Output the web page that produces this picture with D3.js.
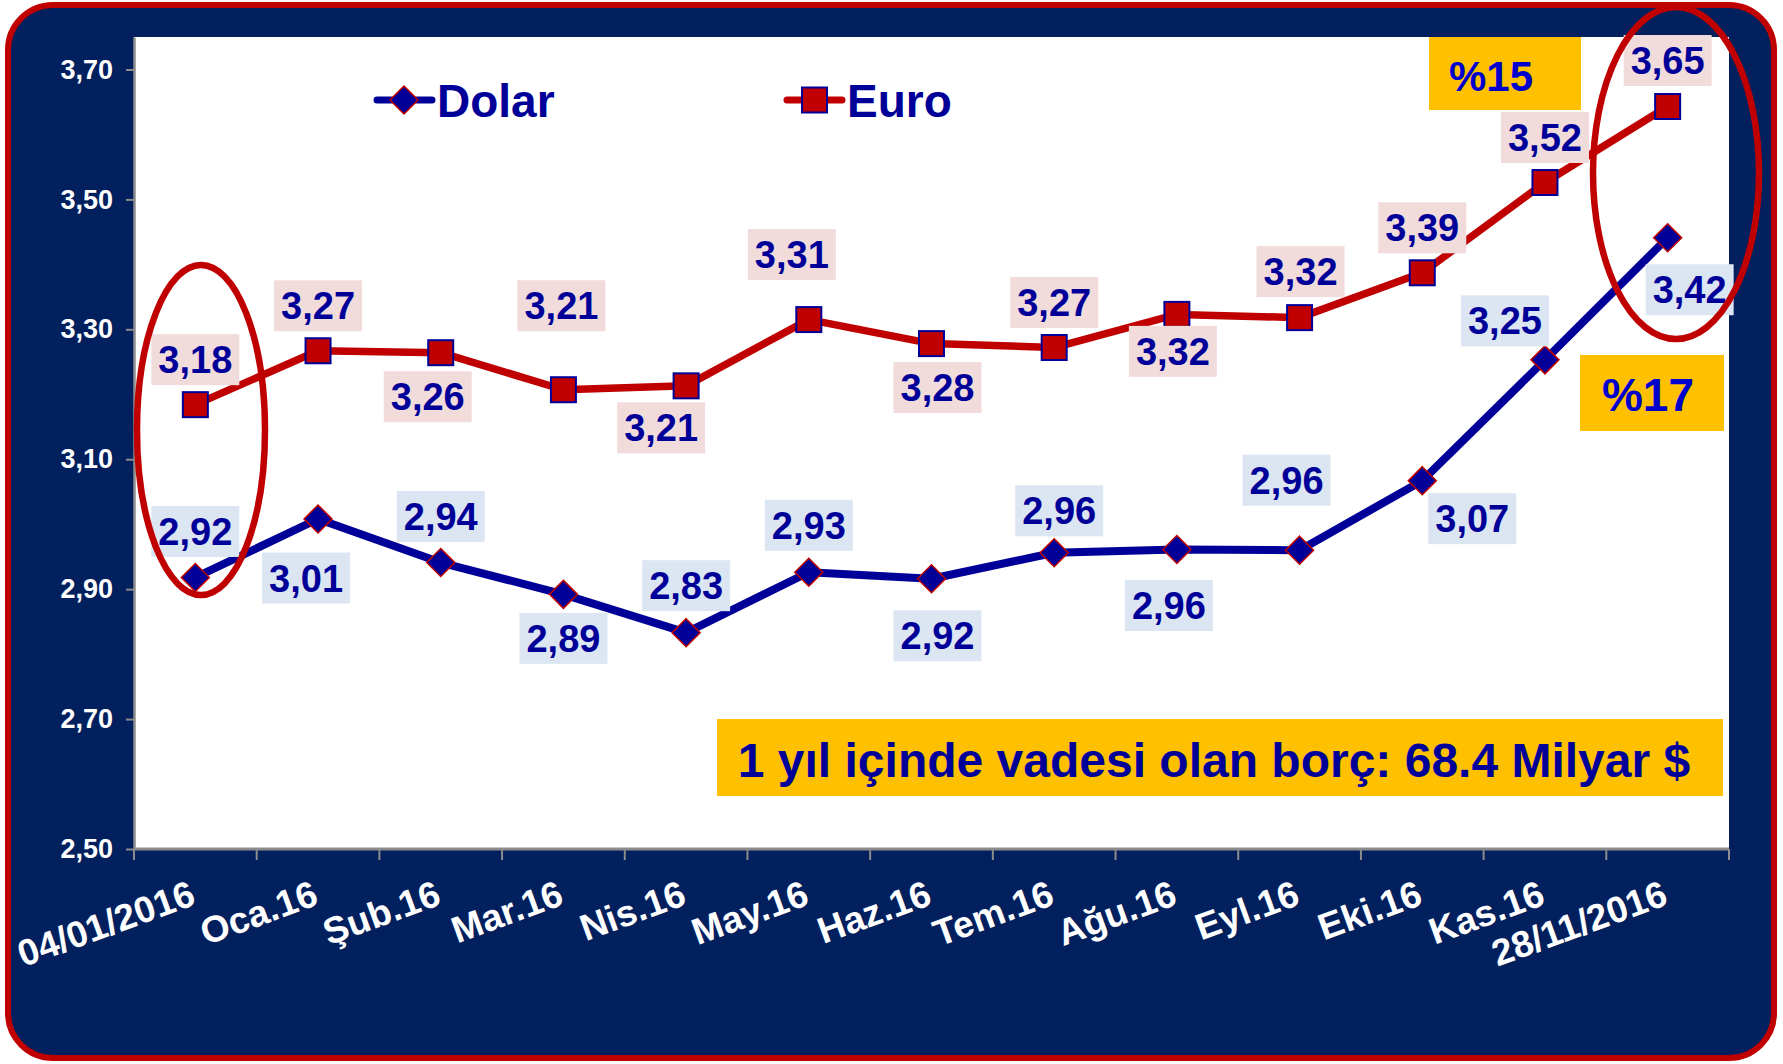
<!DOCTYPE html>
<html>
<head>
<meta charset="utf-8">
<script src="https://cdn.jsdelivr.net/npm/d3@7"></script>
<style>
  body { margin: 0; background: #ffffff; }
  text { font-family: "Liberation Sans", Arial, sans-serif; font-weight: bold; }
</style>
</head>
<body>
<div id="chart"></div>
<script>
// Data (values as plotted, labels as printed on the chart)
var categories = ["04/01/2016", "Oca.16", "Şub.16", "Mar.16", "Nis.16", "May.16", "Haz.16",
                  "Tem.16", "Ağu.16", "Eyl.16", "Eki.16", "Kas.16", "28/11/2016"];
var dolarValues = [2.918, 3.008, 2.941, 2.892, 2.833, 2.926, 2.916, 2.956, 2.961, 2.96, 3.067, 3.253, 3.441];
var euroValues  = [3.184, 3.267, 3.264, 3.207, 3.213, 3.315, 3.278, 3.272, 3.323, 3.318, 3.387, 3.526, 3.643];
var dolarLabels = ["2,92", "3,01", "2,94", "2,89", "2,83", "2,93", "2,92", "2,96", "2,96", "2,96", "3,07", "3,25", "3,42"];
var euroLabels  = ["3,18", "3,27", "3,26", "3,21", "3,21", "3,31", "3,28", "3,27", "3,32", "3,32", "3,39", "3,52", "3,65"];
var yTickValues = [2.5, 2.7, 2.9, 3.1, 3.3, 3.5, 3.7];
var seriesNames = ["Dolar", "Euro"];
var noteText = "1 yıl içinde vadesi olan borç: 68.4 Milyar $";
var euroChange = "%15";
var dolarChange = "%17";

// where each data label sits relative to its point (px)
var dolarLabelOffsets = [[0,-46],[-12,59],[0,-46],[0,44],[0,-47],[0,-47],[6,57],[5,-42],[-8,56],[-13,-70],[50,38],[-40,-39],[22,52]];
var euroLabelOffsets  = [[0,-45],[0,-45],[-13,44],[-2,-84],[-25,42],[-17,-65],[6,44],[0,-45],[-4,37],[1,-46],[0,-45],[0,-45],[0,-46]];

var navy = "#021F5E", red = "#C00000", blue = "#000099", yellow = "#FFC000";

var svgWidth = 1783, svgHeight = 1064;
var plot = { left: 134, right: 1729, top: 37, bottom: 849 };

var svg = d3.select("#chart").append("svg")
  .attr("width", svgWidth)
  .attr("height", svgHeight);

// frame + plot area
svg.append("rect")
  .attr("x", 8).attr("y", 5)
  .attr("width", 1766).attr("height", 1053)
  .attr("rx", 45)
  .attr("fill", navy)
  .attr("stroke", red)
  .attr("stroke-width", 6);

svg.append("rect")
  .attr("x", plot.left).attr("y", plot.top)
  .attr("width", plot.right - plot.left)
  .attr("height", plot.bottom - plot.top)
  .attr("fill", "#ffffff");

// scales
var xScale = d3.scaleBand().domain(categories).range([plot.left, plot.right]);
var bw = xScale.bandwidth();
var cx = function (i) { return xScale(categories[i]) + bw / 2; };
var yScale = d3.scaleLinear().domain([2.5, 3.75]).range([plot.bottom, plot.top]);
var fmt = function (v) { return d3.format(".2f")(v).replace(".", ","); };

// y axis
var yAxis = svg.append("g")
  .attr("transform", `translate(${plot.left},0)`)
  .call(d3.axisLeft(yScale).tickValues(yTickValues).tickSize(8).tickSizeOuter(0).tickPadding(13).tickFormat(fmt));
yAxis.select(".domain").attr("stroke", "#8c8c8c").attr("stroke-width", 2.5);
yAxis.selectAll(".tick line").attr("stroke", "#8c8c8c").attr("stroke-width", 2);
yAxis.selectAll(".tick text")
  .attr("fill", "#ffffff")
  .attr("font-size", "27px")
  .attr("font-family", "Liberation Sans, Arial, sans-serif")
  .attr("font-weight", "bold");

// x axis (ticks at category boundaries)
var xAxis = svg.append("g");
xAxis.append("line")
  .attr("x1", plot.left).attr("x2", plot.right)
  .attr("y1", plot.bottom).attr("y2", plot.bottom)
  .attr("stroke", "#8c8c8c").attr("stroke-width", 3);
var bounds = categories.map(function (c) { return xScale(c); }).concat([plot.right]);
xAxis.selectAll(".xtick")
  .data(bounds)
  .enter()
  .append("line")
  .attr("x1", d => d).attr("x2", d => d)
  .attr("y1", plot.bottom).attr("y2", plot.bottom + 11)
  .attr("stroke", "#8c8c8c").attr("stroke-width", 2);
xAxis.selectAll(".xlabel")
  .data(categories)
  .enter()
  .append("text")
  .attr("transform", (d, i) => `translate(${cx(i) + 2},${plot.bottom + 55}) rotate(-20)`)
  .attr("text-anchor", "end")
  .attr("fill", "#ffffff")
  .attr("font-size", "37px")
  .text(d => d);

// lines
var line = d3.line()
  .x((d, i) => cx(i))
  .y(d => yScale(d));

svg.append("path")
  .datum(euroValues)
  .attr("d", line)
  .attr("fill", "none")
  .attr("stroke", red)
  .attr("stroke-width", 7.5)
  .attr("stroke-linejoin", "round");

svg.append("path")
  .datum(dolarValues)
  .attr("d", line)
  .attr("fill", "none")
  .attr("stroke", blue)
  .attr("stroke-width", 8)
  .attr("stroke-linejoin", "round");

// markers
var diamond = "M0,-14L14,0L0,14L-14,0Z";

svg.selectAll(".euroMark")
  .data(euroValues)
  .enter()
  .append("rect")
  .attr("x", (d, i) => cx(i) - 12.5)
  .attr("y", d => yScale(d) - 12.5)
  .attr("width", 25).attr("height", 25)
  .attr("fill", red)
  .attr("stroke", blue)
  .attr("stroke-width", 2);

svg.selectAll(".dolarMark")
  .data(dolarValues)
  .enter()
  .append("path")
  .attr("d", diamond)
  .attr("transform", (d, i) => `translate(${cx(i)},${yScale(d)})`)
  .attr("fill", blue)
  .attr("stroke", red)
  .attr("stroke-width", 1.5);

// data labels
function drawLabels(values, labels, offsets, bg) {
  var g = svg.append("g")
    .selectAll("g")
    .data(values)
    .enter()
    .append("g")
    .attr("transform", (d, i) => `translate(${cx(i) + offsets[i][0]},${yScale(d) + offsets[i][1]})`);
  g.append("rect")
    .attr("x", -44).attr("y", -25.5)
    .attr("width", 88).attr("height", 51)
    .attr("fill", bg);
  g.append("text")
    .attr("text-anchor", "middle")
    .attr("y", 13.5)
    .attr("fill", blue)
    .attr("font-size", "38px")
    .text((d, i) => labels[i]);
}
drawLabels(euroValues, euroLabels, euroLabelOffsets, "#F2DCDB");
drawLabels(dolarValues, dolarLabels, dolarLabelOffsets, "#DCE6F2");

// legend
var legend = svg.append("g");
var legendX = [377, 787];
seriesNames.forEach(function (name, k) {
  var lg = legend.append("g").attr("transform", `translate(${legendX[k]},100)`);
  lg.append("line")
    .attr("x1", 0).attr("x2", 55)
    .attr("stroke", k === 0 ? blue : red)
    .attr("stroke-width", 7)
    .attr("stroke-linecap", "round");
  if (k === 0) {
    lg.append("path").attr("d", diamond).attr("transform", "translate(27,0)")
      .attr("fill", blue).attr("stroke", red).attr("stroke-width", 1.5);
  } else {
    lg.append("rect").attr("x", 15).attr("y", -12.5).attr("width", 25).attr("height", 25)
      .attr("fill", red).attr("stroke", blue).attr("stroke-width", 2);
  }
  lg.append("text")
    .attr("x", 60).attr("y", 17)
    .attr("fill", blue)
    .attr("font-size", "46px")
    .text(name);
});

// yellow callouts
svg.append("rect").attr("x", 1429).attr("y", 37).attr("width", 152).attr("height", 73).attr("fill", yellow);
svg.append("text").attr("x", 1449).attr("y", 91).attr("fill", "#0000CC").attr("font-size", "42px").text(euroChange);

svg.append("rect").attr("x", 1580).attr("y", 355).attr("width", 144).attr("height", 76).attr("fill", yellow);
svg.append("text").attr("x", 1648).attr("y", 411).attr("text-anchor", "middle").attr("fill", "#0000CC").attr("font-size", "46px").text(dolarChange);

svg.append("rect").attr("x", 717).attr("y", 719).attr("width", 1006).attr("height", 77).attr("fill", yellow);
svg.append("text").attr("x", 1214).attr("y", 777).attr("text-anchor", "middle").attr("fill", blue).attr("font-size", "48px").text(noteText);

// highlight ellipses
svg.append("ellipse").attr("cx", 201).attr("cy", 430).attr("rx", 64).attr("ry", 165)
  .attr("fill", "none").attr("stroke", red).attr("stroke-width", 6.5);
svg.append("ellipse").attr("cx", 1676).attr("cy", 173).attr("rx", 83).attr("ry", 166)
  .attr("fill", "none").attr("stroke", red).attr("stroke-width", 6.5);
</script>
</body>
</html>
